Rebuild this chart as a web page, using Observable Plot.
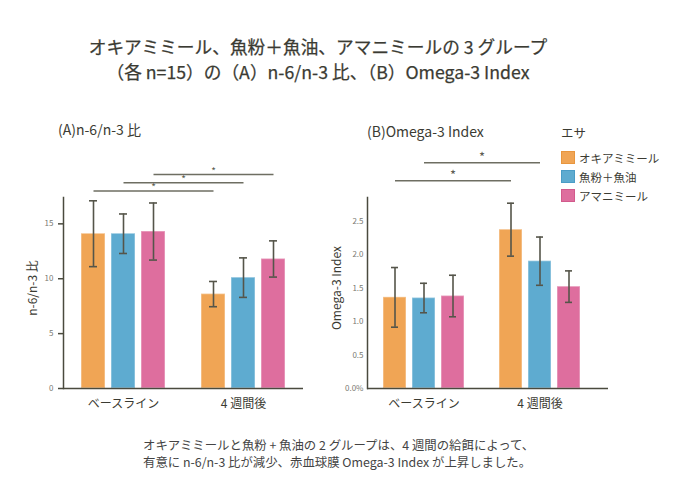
<!DOCTYPE html>
<html><head><meta charset="utf-8">
<script src="https://cdn.jsdelivr.net/npm/d3@7"></script>
<script src="https://cdn.jsdelivr.net/npm/@observablehq/plot@0.6"></script>
<style>
html,body{margin:0;padding:0;background:#fff;}
#wrap{position:relative;width:680px;height:500px;font-family:"Noto Sans CJK JP","Noto Sans",sans-serif;color:#3b3b33;overflow:hidden;}
.abs{position:absolute;}
#title{left:0;top:34px;width:636px;text-align:center;font-size:17.7px;line-height:25px;font-weight:400;-webkit-text-stroke:0.25px #3b3b33;}
.ptitle{font-size:14px;line-height:18px;}
#caption{left:143px;top:437px;font-size:12.4px;line-height:17px;color:#444;}
#legend{left:561px;top:124px;font-size:11.5px;}
.lt{font-size:12.5px;line-height:18px;margin-bottom:6px;}
.li{display:flex;align-items:center;height:19px;}
.sw{width:12px;height:11px;border:1px solid;margin-right:4px;}
</style></head>
<body><div id="wrap">
<div id="title" class="abs">オキアミミール、魚粉＋魚油、アマニミールの 3 グループ<br>（各 n=15）の（A）n-6/n-3 比、（B）Omega-3 Index</div>
<div class="abs ptitle" style="left:58px;top:120px;">(A)n-6/n-3 比</div>
<div class="abs ptitle" style="left:367px;top:122px;">(B)Omega-3 Index</div>
<div id="legend" class="abs"></div>
<div id="pa" class="abs" style="left:0;top:110px;"></div>
<div id="pb" class="abs" style="left:330px;top:110px;"></div>
<div id="caption" class="abs">オキアミミールと魚粉 + 魚油の 2 グループは、4 週間の給餌によって、<br>有意に n-6/n-3 比が減少、赤血球膜 Omega-3 Index が上昇しました。</div>
</div>
<script>
const feeds = ["オキアミミール", "魚粉＋魚油", "アマニミール"];
const times = ["ベースライン", "4 週間後"];
const colors = ["#F0A555", "#5EABD0", "#DE6E9E"];
const borders = ["#E8963E", "#4A9CC6", "#D25A8C"];

const ratioBase = [14.1, 14.1, 14.3];
const ratioBaseErr = [3.0, 1.8, 2.6];
const ratioWeek4 = [8.6, 10.1, 11.8];
const ratioWeek4Err = [1.15, 1.8, 1.65];
const ratioTicks = [0, 5, 10, 15];
const ratioSigFeeds = [0, 1, 2];
const ratioSigLevels = [18.0, 18.75, 19.5];

const omegaBase = [1.36, 1.35, 1.38];
const omegaBaseErr = [0.445, 0.22, 0.31];
const omegaWeek4 = [2.37, 1.90, 1.52];
const omegaWeek4Err = [0.395, 0.36, 0.235];
const omegaTicks = [0, 0.5, 1.0, 1.5, 2.0, 2.5];
const omegaSigFeeds = [0, 1];
const omegaSigLevels = [3.1, 3.37];

const key = (t, f) => times[t] + "|" + feeds[f];
const domain = [...feeds.map((f, i) => key(0, i)), "gap", ...feeds.map((f, i) => key(1, i))];

function rows(base, baseErr, wk, wkErr) {
  const out = [];
  [[base, baseErr], [wk, wkErr]].forEach(([m, e], t) => {
    m.forEach((v, i) => out.push({key: key(t, i), feed: feeds[i], value: v, lo: v - e[i], hi: v + e[i]}));
  });
  return out;
}
function brackets(sigFeeds, levels) {
  return sigFeeds.map((f, j) => {
    const a = domain.indexOf(key(0, f)), b = domain.indexOf(key(1, f));
    return {from: domain[a], to: domain[b], mid: domain[(a + b) / 2], y: levels[j]};
  });
}
const groupLabels = times.map((t, i) => ({label: t, key: key(i, 1)}));

function panel({data, sig, yDomain, ticks, tickFormat, tickSize, tickPadding, ylabel, width, marginLeft, marginRight, paddingOuter, align, starSize, starDy}) {
  return Plot.plot({
    width, height: 310,
    marginLeft, marginRight, marginTop: 87, marginBottom: 32,
    style: {fontFamily: '"Noto Sans CJK JP", sans-serif', background: "transparent", overflow: "visible"},
    x: {type: "band", domain, paddingInner: 0.19, paddingOuter, align, axis: null},
    y: {domain: yDomain, axis: null},
    color: {domain: feeds, range: colors},
    marks: [
      Plot.barY(data, {x: "key", y: "value", fill: "feed", stroke: "white", strokeOpacity: 0.35, strokeWidth: 1.5}),
      Plot.ruleX(data, {x: "key", y1: "lo", y2: "hi", stroke: "#55554a", strokeWidth: 1.6}),
      Plot.tickY(data, {x: "key", y: "hi", stroke: "#55554a", strokeWidth: 1.6, insetLeft: 8, insetRight: 8}),
      Plot.tickY(data, {x: "key", y: "lo", stroke: "#55554a", strokeWidth: 1.6, insetLeft: 8, insetRight: 8}),
      Plot.axisY({ticks, tickFormat, tickSize, tickPadding, stroke: "#4a4a3e", strokeWidth: 1.5, fontSize: 8, fill: "#7a7a72", label: null}),
      Plot.frame({anchor: "left", stroke: "#4a4a3e", strokeWidth: 1.5}),
      Plot.ruleY([0], {stroke: "#4a4a3e", strokeWidth: 1.5}),
      Plot.link(sig, {x1: "from", x2: "to", y1: "y", y2: "y", stroke: "#6e6e62", strokeWidth: 1.5}),
      Plot.text(sig, {x: "mid", y: "y", text: () => "*", fontSize: starSize, dy: starDy, fill: "#5a5a50"}),
      Plot.text(groupLabels, {x: "key", y: 0, text: "label", dy: 16, fontSize: 12, fill: "#3b3b33"}),
      Plot.text([ylabel], {frameAnchor: "left", textAnchor: "middle", rotate: -90, dx: -30, dy: -5, fontSize: 12, fill: "#3b3b33"})
    ]
  });
}

document.getElementById("pa").append(panel({
  data: rows(ratioBase, ratioBaseErr, ratioWeek4, ratioWeek4Err),
  sig: brackets(ratioSigFeeds, ratioSigLevels),
  yDomain: [0, 17.4], ticks: ratioTicks, tickFormat: d => String(d), tickSize: 5, tickPadding: 5,
  ylabel: "n-6/n-3 比", width: 320, marginLeft: 63, marginRight: 17,
  paddingOuter: 0.556, align: 0.5, starSize: 10, starDy: -3
}));
document.getElementById("pb").append(panel({
  data: rows(omegaBase, omegaBaseErr, omegaWeek4, omegaWeek4Err),
  sig: brackets(omegaSigFeeds, omegaSigLevels),
  yDomain: [0, 2.85], ticks: omegaTicks, tickFormat: d => d === 0 ? "0.0%" : d.toFixed(1), tickSize: 0, tickPadding: 4,
  ylabel: "Omega-3 Index", width: 300, marginLeft: 37, marginRight: 22,
  paddingOuter: 0.693, align: 0.377, starSize: 13, starDy: -5
}));

const legend = document.getElementById("legend");
legend.innerHTML = '<div class="lt">エサ</div>' + feeds.map((f, i) =>
  `<div class="li"><span class="sw" style="background:${colors[i]};border-color:${borders[i]}"></span><span>${f}</span></div>`).join("");
</script>
</body></html>
